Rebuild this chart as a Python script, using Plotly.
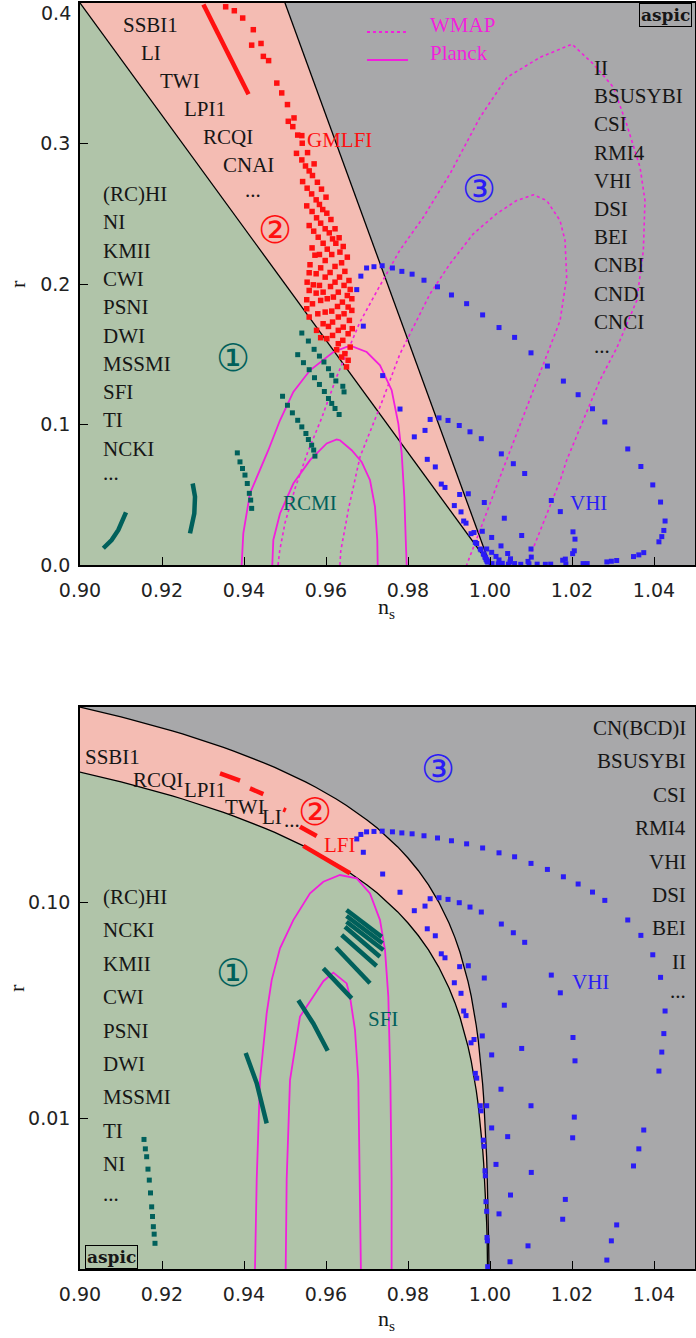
import numpy as np
import plotly.graph_objects as go

W, H = 696, 1338

# ---------------- axes / ticks ----------------
NS_RANGE = [0.90, 1.05]
XTICKS = [0.90, 0.92, 0.94, 0.96, 0.98, 1.00, 1.02, 1.04]
XTICKTEXT = ["0.90", "0.92", "0.94", "0.96", "0.98", "1.00", "1.02", "1.04"]
TOP_R_RANGE = [0.0, 0.4]
TOP_YTICKS = [0.0, 0.1, 0.2, 0.3, 0.4]
TOP_YTICKTEXT = ["0.0", "0.1", "0.2", "0.3", " "]
TOP_YMAX_LABEL = "0.4"
BOT_R_RANGE = [0.002, 0.8]
BOT_YTICKS = [0.01, 0.1]
BOT_YTICKTEXT = ["0.01", "0.10"]

# region boundaries: r = k * (1 - ns)
BOUNDARY_K = [4.0, 8.0]

# ---------------- contours (ns, r) ----------------
TOP_PLANCK_1S = [(0.9469, 0.0), (0.94715, 0.0178), (0.94878, 0.0367), (0.95203, 0.058), (0.9561, 0.0746),
                 (0.96017, 0.0865), (0.96261, 0.0893), (0.96341, 0.0888), (0.96626, 0.0817), (0.9687, 0.0734),
                 (0.97073, 0.0604), (0.97195, 0.0414), (0.97251, 0.0178), (0.97261, 0.0)]
TOP_PLANCK_2S = [(0.93943, 0.0), (0.93983, 0.0225), (0.94146, 0.051), (0.94431, 0.0699), (0.94593, 0.0817),
                 (0.94878, 0.103), (0.95203, 0.1232), (0.9561, 0.1386), (0.96179, 0.1516), (0.96504, 0.1552),
                 (0.96626, 0.1557), (0.96993, 0.1516), (0.97317, 0.1421), (0.97602, 0.1244), (0.97764, 0.1007),
                 (0.97846, 0.0794), (0.9791, 0.0485), (0.97951, 0.013), (0.97968, 0.0)]
TOP_WMAP_1S = [(0.9634, 0.0), (0.9636, 0.01), (0.9655, 0.04), (0.9683, 0.077), (0.9735, 0.115), (0.978, 0.15),
               (0.98537, 0.193), (0.99024, 0.2144), (0.99593, 0.2357), (1.00162, 0.25), (1.0065, 0.2594),
               (1.0106, 0.2635), (1.01383, 0.2594), (1.01707, 0.2452), (1.0183, 0.231), (1.0187, 0.205),
               (1.0171, 0.174), (1.0126, 0.14), (1.0074, 0.1), (1.0021, 0.06), (0.9976, 0.025), (0.9943, 0.0)]
TOP_WMAP_2S = [(0.9483, 0.0), (0.9487, 0.01), (0.950, 0.03), (0.9525, 0.055), (0.9555, 0.08), (0.959, 0.105),
               (0.9626, 0.134), (0.9683, 0.173), (0.973, 0.198), (0.978, 0.224), (0.98374, 0.2475),
               (0.99024, 0.2784), (0.99756, 0.3186), (1.0041, 0.347), (1.0122, 0.3613), (1.02, 0.3707),
               (1.0252, 0.3566), (1.0301, 0.34), (1.0333, 0.314), (1.0366, 0.283), (1.0378, 0.2594),
               (1.0374, 0.2239), (1.0358, 0.1883), (1.031, 0.155), (1.0268, 0.1315), (1.0187, 0.0746),
               (1.0171, 0.06), (1.013, 0.03), (1.0089, 0.0)]
BOT_PLANCK_1S = [(0.9501, 0.0015), (0.95017, 0.002), (0.95041, 0.0052), (0.95122, 0.015), (0.95366, 0.0295),
                 (0.9569, 0.0365), (0.95935, 0.0430), (0.96179, 0.0471), (0.96504, 0.042), (0.96585, 0.0365),
                 (0.96707, 0.0256), (0.96788, 0.015), (0.96829, 0.0052), (0.96854, 0.002), (0.9686, 0.0015)]
BOT_PLANCK_2S = [(0.94268, 0.0015), (0.94268, 0.002), (0.9431, 0.0052), (0.9439, 0.015), (0.94553, 0.0305),
                 (0.94675, 0.0435), (0.94878, 0.0611), (0.95203, 0.0825), (0.9561, 0.1097), (0.95935, 0.1242),
                 (0.96341, 0.1334), (0.96748, 0.1287), (0.97073, 0.1097), (0.97317, 0.0825), (0.97439, 0.06),
                 (0.9752, 0.0365), (0.9757, 0.015), (0.976, 0.0052), (0.976, 0.0015)]

# ---------------- model predictions (ns, r) ----------------
BLUE_MODELS = [
    (0.99944, 0.00205), (0.99935, 0.0027), (0.99927, 0.0028), (0.99919, 0.0037), (0.99902, 0.0041),
    (0.99886, 0.0054), (0.99878, 0.0057), (0.99854, 0.0074), (0.99837, 0.0079), (0.99781, 0.0108),
    (0.99763, 0.0114), (0.99676, 0.0153), (0.99642, 0.0161), (0.99537, 0.0223), (0.9961, 0.0231),
    (0.99415, 0.0298), (0.99358, 0.0313), (0.99293, 0.0378), (0.9913, 0.0423), (0.98902, 0.0552),
    (0.98812, 0.0576), (0.98666, 0.0698), (0.9847, 0.0752), (0.98154, 0.0912), (0.98415, 0.0958),
    (0.97805, 0.111), (0.97382, 0.1348), (0.9691, 0.170), (0.9675, 0.196), (0.9685, 0.2056),
    (0.9699, 0.2114), (0.9717, 0.2123), (0.9737, 0.213), (0.9762, 0.2114), (0.9785, 0.209), (0.981, 0.207),
    (0.9839, 0.2027), (0.9872, 0.198), (0.9906, 0.1922), (0.9943, 0.186), (0.9982, 0.178), (1.0022, 0.169),
    (1.006, 0.162), (1.010, 0.151), (1.014, 0.1416), (1.0179, 0.1309), (1.0215, 0.1212), (1.025, 0.1112),
    (1.028, 0.1018), (1.0336, 0.0826), (1.0368, 0.0701), (1.0397, 0.057), (1.0416, 0.0448),
    (1.0427, 0.0313), (1.0424, 0.0246), (1.0419, 0.0202), (1.0412, 0.0165), (1.0375, 0.0088),
    (1.0363, 0.0072), (1.035, 0.006), (1.0309, 0.0032), (1.0296, 0.0027), (1.0285, 0.0022),
    (1.0237, 0.001), (1.0227, 0.001),
    (0.9854, 0.1036), (0.98756, 0.1047), (0.98976, 0.1029), (0.9925, 0.0993), (0.99512, 0.0948),
    (0.99788, 0.0899), (1.00276, 0.0791), (1.00569, 0.0721), (1.00846, 0.0651), (1.01495, 0.0459),
    (1.01715, 0.038), (1.02024, 0.0236), (1.02073, 0.0184), (1.02056, 0.0101), (1.02016, 0.0081),
    (1.01837, 0.0042), (1.01773, 0.0034), (1.0185, 0.0008), (1.0148, 0.0006),
    (0.9926, 0.0502), (0.99471, 0.0507), (0.99812, 0.024), (0.99861, 0.0445), (1.00349, 0.0333),
    (1.00773, 0.021), (1.01, 0.0114), (1.01007, 0.0056), (1.00927, 0.00256),
    (1.00041, 0.0196), (1.00268, 0.0136), (1.00431, 0.0082), (1.0050, 0.0044), (1.00488, 0.00216),
    (1.00041, 0.009), (0.99919, 0.0114), (1.00146, 0.0061), (1.0022, 0.0036),
    (1.0005, 0.001), (1.002, 0.0008), (1.003, 0.0012), (1.0045, 0.0006), (1.006, 0.001),
    (1.0075, 0.0005), (1.0095, 0.0008), (1.0115, 0.0006), (1.0135, 0.0005)]

TOP_RED_STREAK = [(0.9301, 0.399), (0.93577, 0.366), (0.9411, 0.335)]
TOP_RED_DOTS = [
    (0.93553, 0.3973), (0.93764, 0.3945), (0.93968, 0.3893), (0.94227, 0.381), (0.94187, 0.370),
    (0.94415, 0.3712), (0.94472, 0.362), (0.946, 0.359), (0.948, 0.343), (0.9492, 0.336),
    (0.9506, 0.3277), (0.9508, 0.3158), (0.9522, 0.3182), (0.9519, 0.312), (0.9531, 0.306), (0.9541, 0.3056),
    (0.9542, 0.3002), (0.9528, 0.293), (0.9555, 0.2935), (0.9541, 0.2883), (0.9550, 0.284), (0.9571, 0.2855),
    (0.9559, 0.2805), (0.9567, 0.2772), (0.9543, 0.2729), (0.9579, 0.2724), (0.9554, 0.2682), (0.9589, 0.2675),
    (0.9565, 0.2641), (0.960, 0.2618), (0.9553, 0.2556), (0.9576, 0.2599), (0.9584, 0.2566), (0.9592, 0.2530),
    (0.9566, 0.2516), (0.9602, 0.2504), (0.9577, 0.2471), (0.9612, 0.2459), (0.9587, 0.2433), (0.9622, 0.2393),
    (0.9559, 0.2416), (0.9598, 0.2393), (0.957, 0.2376), (0.9608, 0.2364), (0.9632, 0.2329), (0.9581, 0.2333),
    (0.9616, 0.2321), (0.9593, 0.229), (0.9624, 0.229), (0.9642, 0.2267), (0.9566, 0.2257), (0.9603, 0.2248),
    (0.9634, 0.2227), (0.9652, 0.2191), (0.9584, 0.221), (0.9614, 0.221), (0.9573, 0.2205), (0.9638, 0.2151),
    (0.9598, 0.2167), (0.9561, 0.2137), (0.9622, 0.2125), (0.9646, 0.209), (0.9587, 0.2115), (0.961, 0.2082),
    (0.9576, 0.2073), (0.9559, 0.208), (0.9633, 0.2049), (0.9656, 0.2025), (0.9598, 0.2049), (0.9554, 0.2013),
    (0.9622, 0.2013), (0.9569, 0.1994), (0.9644, 0.199), (0.9584, 0.199), (0.9611, 0.1982), (0.9659, 0.1961),
    (0.9559, 0.1954), (0.9593, 0.1942), (0.963, 0.1942), (0.9652, 0.1918), (0.9576, 0.1935), (0.9553, 0.1888),
    (0.9663, 0.1895), (0.9618, 0.1907), (0.9603, 0.1895), (0.964, 0.1871), (0.9587, 0.1883), (0.9567, 0.1859),
    (0.9628, 0.1840), (0.9654, 0.1836), (0.9553, 0.1824), (0.9614, 0.1807), (0.9663, 0.1812), (0.9598, 0.18),
    (0.9644, 0.1788), (0.958, 0.1788), (0.963, 0.1765), (0.9559, 0.1765), (0.9657, 0.1741), (0.9616, 0.1729),
    (0.9606, 0.1698), (0.9593, 0.1717), (0.9642, 0.1693), (0.9664, 0.1682), (0.9577, 0.1670), (0.963, 0.1670),
    (0.9654, 0.1646), (0.9616, 0.1634), (0.9602, 0.1611), (0.9587, 0.1618), (0.9641, 0.1599), (0.9659, 0.1551),
    (0.9626, 0.1532), (0.9646, 0.1504), (0.9654, 0.1457), (0.965, 0.141), (0.963, 0.1575), (0.9638, 0.148)]

TOP_TEAL_ARCS = [
    [(0.90569, 0.0119), (0.90772, 0.0178), (0.90935, 0.0249), (0.91057, 0.032), (0.91122, 0.0374)],
    [(0.92683, 0.0225), (0.92788, 0.0367), (0.92805, 0.0486), (0.92748, 0.058)]]
TOP_TEAL_DOTS = [
    (0.93837, 0.0798), (0.93902, 0.0734), (0.93963, 0.0687), (0.94024, 0.064), (0.9408, 0.058),
    (0.9413, 0.051), (0.94163, 0.0462), (0.94187, 0.0403),
    (0.9494, 0.1201), (0.9506, 0.1137), (0.9518, 0.1083), (0.9531, 0.1030), (0.9541, 0.0983),
    (0.9551, 0.0936), (0.9557, 0.0893), (0.9565, 0.0853), (0.957, 0.0818), (0.9573, 0.0775),
    (0.9541, 0.1651), (0.9557, 0.1594), (0.9571, 0.1535), (0.9584, 0.1487), (0.9595, 0.1445),
    (0.9606, 0.1397), (0.9614, 0.1350), (0.9624, 0.1310), (0.9641, 0.1272), (0.9644, 0.1232),
    (0.9531, 0.1497), (0.9545, 0.1440), (0.9559, 0.1390), (0.9572, 0.1333), (0.9584, 0.1285),
    (0.9596, 0.1235), (0.9606, 0.1185), (0.9614, 0.1150), (0.9622, 0.1114), (0.9632, 0.1071)]

BOT_RED_SEGMENTS = [
    [(0.93415, 0.394), (0.93902, 0.3645)],
    [(0.94146, 0.336), (0.94471, 0.316)],
    [(0.94959, 0.2685), (0.9502, 0.2655)],
    [(0.95366, 0.2234), (0.95773, 0.2023)],
    [(0.95447, 0.1820), (0.96585, 0.1360)]]
BOT_TEAL_SEGMENTS = [
    [(0.9650, 0.0918), (0.9736, 0.069)],
    [(0.9650, 0.0862), (0.9738, 0.0645)],
    [(0.9650, 0.0810), (0.9740, 0.060)],
    [(0.96463, 0.0769), (0.97317, 0.0558)],
    [(0.96382, 0.0704), (0.97234, 0.0506)],
    [(0.96244, 0.0616), (0.97073, 0.0421)],
    [(0.95935, 0.0493), (0.96627, 0.0358)],
    [(0.95325, 0.0351), (0.9569, 0.0274), (0.96041, 0.0205)],
    [(0.94041, 0.020), (0.9431, 0.0145), (0.94553, 0.00945)]]
BOT_TEAL_DOTS = [(0.91561, 0.00796), (0.91594, 0.0072), (0.91626, 0.00662), (0.91658, 0.0058),
                 (0.9169, 0.00516), (0.91719, 0.0045), (0.91748, 0.00388), (0.91769, 0.0035),
                 (0.91789, 0.00314), (0.91809, 0.0029), (0.91829, 0.00263)]

# ---------------- labels ----------------
TOP_DIAG_LABELS = ["SSBI1", "LI", "TWI", "LPI1", "RCQI", "CNAI", "..."]
TOP_LEFT_LABELS = ["(RC)HI", "NI", "KMII", "CWI", "PSNI", "DWI", "MSSMI", "SFI", "TI", "NCKI", "..."]
TOP_RIGHT_LABELS = ["II", "BSUSYBI", "CSI", "RMI4", "VHI", "DSI", "BEI", "CNBI", "CNDI", "CNCI", "..."]
BOT_DIAG_LABELS = ["SSBI1", "RCQI", "LPI1", "TWI", "LI", "..."]
BOT_LEFT_LABELS = ["(RC)HI", "NCKI", "KMII", "CWI", "PSNI", "DWI", "MSSMI", "TI", "NI", "..."]
BOT_RIGHT_LABELS = ["CN(BCD)I", "BSUSYBI", "CSI", "RMI4", "VHI", "DSI", "BEI", "II", "..."]

# ---------------- styling ----------------
GREEN = "#b0c4a9"
PINK = "#f4bcb3"
GREY = "#a8a8aa"
MAGENTA = "#f21fdc"
BLUE = "#2b1cf6"
RED = "#ff1010"
TEAL = "#00605b"
INK = "#161616"
SERIF = "Liberation Serif"
TICKFONT = "DejaVu Sans"
CIRC = "DejaVu Serif, DejaVu Sans, Noto Sans CJK JP"
LBL = 21

fig = go.Figure()


def unzip(pairs):
    return [p[0] for p in pairs], [p[1] for p in pairs]


def add(tr, panel):
    tr.update(xaxis="x" if panel == 1 else "x2", yaxis="y" if panel == 1 else "y2",
              showlegend=False, hoverinfo="skip")
    fig.add_trace(tr)


# region shading and boundaries
eps = np.concatenate([np.linspace(0.12, 0.01, 45), np.geomspace(0.01, 1e-6, 60)[1:]])
ns_b = 1 - eps
k_lo, k_hi = BOUNDARY_K
for panel, ymin in [(1, -0.01), (2, 1e-7)]:
    add(go.Scatter(x=list(ns_b) + [1.0, 0.88], y=list(k_lo * eps) + [ymin, ymin], mode="lines",
                   line=dict(width=0), fill="toself", fillcolor=GREEN), panel)
    add(go.Scatter(x=list(ns_b) + list(ns_b[::-1]), y=list(k_lo * eps) + list((k_hi * eps)[::-1]),
                   mode="lines", line=dict(width=0), fill="toself", fillcolor=PINK), panel)
    for k in BOUNDARY_K:
        add(go.Scatter(x=ns_b, y=k * eps, mode="lines", line=dict(color="black", width=1.3)), panel)

# contours
for c in [TOP_WMAP_1S, TOP_WMAP_2S]:
    x, y = unzip(c)
    add(go.Scatter(x=x, y=y, mode="lines", line=dict(color=MAGENTA, width=1.6, dash="dot")), 1)
for c in [TOP_PLANCK_1S, TOP_PLANCK_2S]:
    x, y = unzip(c)
    add(go.Scatter(x=x, y=y, mode="lines", line=dict(color=MAGENTA, width=1.8)), 1)
for c in [BOT_PLANCK_1S, BOT_PLANCK_2S]:
    x, y = unzip(c)
    add(go.Scatter(x=x, y=y, mode="lines", line=dict(color=MAGENTA, width=1.8)), 2)

mk = dict(symbol="square", size=5, line=dict(width=0))

# top panel models
for arc in TOP_TEAL_ARCS:
    x, y = unzip(arc)
    add(go.Scatter(x=x, y=y, mode="lines", line=dict(color=TEAL, width=4.5)), 1)
x, y = unzip(TOP_TEAL_DOTS)
add(go.Scatter(x=x, y=y, mode="markers", marker=dict(color=TEAL, **mk)), 1)
x, y = unzip(TOP_RED_STREAK)
add(go.Scatter(x=x, y=y, mode="lines", line=dict(color=RED, width=4.5)), 1)
x, y = unzip(TOP_RED_DOTS)
add(go.Scatter(x=x, y=y, mode="markers",
               marker=dict(color=RED, symbol="square", size=5.5, line=dict(width=0))), 1)

# bottom panel models
for seg in BOT_TEAL_SEGMENTS:
    x, y = unzip(seg)
    add(go.Scatter(x=x, y=y, mode="lines", line=dict(color=TEAL, width=4.5)), 2)
x, y = unzip(BOT_TEAL_DOTS)
add(go.Scatter(x=x, y=y, mode="markers", marker=dict(color=TEAL, **mk)), 2)
for seg in BOT_RED_SEGMENTS:
    x, y = unzip(seg)
    add(go.Scatter(x=x, y=y, mode="lines", line=dict(color=RED, width=4.5)), 2)

# shared blue models
x, y = unzip(BLUE_MODELS)
for panel in (1, 2):
    add(go.Scatter(x=x, y=y, mode="markers", marker=dict(color=BLUE, **mk)), panel)

# ---------------- annotations ----------------
ann = []


def P(px, py):
    return px / W, 1 - py / H


def text(t, px, py, color=INK, size=LBL, xanchor="center", family=SERIF, **kw):
    x, y = P(px, py)
    ann.append(dict(text=t, x=x, y=y, xref="paper", yref="paper", xanchor=xanchor, yanchor="middle",
                    showarrow=False, font=dict(family=family, size=size, color=color), **kw))


top_diag_pos = [(150, 25), (151, 53), (180, 81), (205, 109), (228, 137), (248, 165), (253, 190)]
for t, (px, py) in zip(TOP_DIAG_LABELS, top_diag_pos):
    text(t, px, py)
for i, t in enumerate(TOP_LEFT_LABELS):
    text(t, 101, 194 + 28.3 * i - (4 if t == "..." else 0), xanchor="left")
for i, t in enumerate(TOP_RIGHT_LABELS):
    text(t, 592, 68 + 28.2 * i - (4 if t == "..." else 0), xanchor="left")

bot_diag_pos = [(112, 757), (158, 780), (205, 790), (245, 807), (272, 817), (292, 820)]
for t, (px, py) in zip(BOT_DIAG_LABELS, bot_diag_pos):
    text(t, px, py)
for i, t in enumerate(BOT_LEFT_LABELS):
    text(t, 101, 897 + 33.4 * i - (4 if t == "..." else 0), xanchor="left")
for i, t in enumerate(BOT_RIGHT_LABELS):
    text(t, 688, 728 + 33.4 * i - (4 if t == "..." else 0), xanchor="right")

# region numbers and model names
text("①", 233, 358, TEAL, 38, family=CIRC)
text("②", 275, 230, RED, 38, family=CIRC)
text("③", 479, 189, BLUE, 38, family=CIRC)
text("①", 233, 973, TEAL, 38, family=CIRC)
text("②", 315, 812, RED, 38, family=CIRC)
text("③", 438, 769, BLUE, 38, family=CIRC)
text("GMLFI", 305, 140, RED, xanchor="left")
text("RCMI", 310, 503, TEAL)
text("VHI", 588, 503, BLUE)
text("LFI", 322, 845, RED, xanchor="left")
text("SFI", 383, 1019, TEAL)
text("VHI", 590, 982, BLUE)

# legend
text("WMAP", 428, 25, MAGENTA, xanchor="left")
text("Planck", 428, 53, MAGENTA, xanchor="left")

# aspic boxes
text("<b>aspic</b>", 665, 15, INK, 17, family="DejaVu Serif", bordercolor="black", borderwidth=1, borderpad=1)
text("<b>aspic</b>", 111, 1257, INK, 17, family="DejaVu Serif", bordercolor="black", borderwidth=1, borderpad=1)

# top y tick label at the upper edge (kept inside the frame height as in the reference)
text(TOP_YMAX_LABEL, 73, 13, "#222", 19, xanchor="right", family=TICKFONT)

# axis titles
text("r", 17, 284, INK, 22, textangle=-90)
text("r", 17, 988, INK, 22, textangle=-90)
text("n<sub>s</sub>", 386, 608, INK, 22)
text("n<sub>s</sub>", 386, 1320, INK, 22)

shapes = []
for py, dash in [(32, "dot"), (60, "solid")]:
    x0, y0 = P(367, py)
    x1, _ = P(408, py)
    shapes.append(dict(type="line", xref="paper", yref="paper", x0=x0, x1=x1, y0=y0, y1=y0,
                       line=dict(color=MAGENTA, width=1.8, dash=dash)))

# ---------------- layout ----------------
xdom = [80 / W, 695 / W]
axis_common = dict(showgrid=False, zeroline=False, showline=True, mirror=True, linecolor="black",
                   linewidth=1.6, ticks="inside", ticklen=8, tickwidth=1.4, tickcolor="black",
                   automargin=False,
                   tickfont=dict(family=TICKFONT, size=19, color="#222"))
fig.update_layout(
    width=W, height=H, margin=dict(l=0, r=0, t=0, b=0, autoexpand=False),
    paper_bgcolor="white", plot_bgcolor=GREY, showlegend=False,
    annotations=ann, shapes=shapes,
    xaxis=dict(domain=xdom, anchor="y", range=NS_RANGE, tickvals=XTICKS, ticktext=XTICKTEXT,
               ticklabelstandoff=7, **axis_common),
    yaxis=dict(domain=[1 - 565 / H, 1 - 3 / H], anchor="x", range=TOP_R_RANGE, tickvals=TOP_YTICKS,
               ticktext=TOP_YTICKTEXT, ticklabelstandoff=4, **axis_common),
    xaxis2=dict(domain=xdom, anchor="y2", range=NS_RANGE, tickvals=XTICKS, ticktext=XTICKTEXT,
                ticklabelstandoff=7, **axis_common),
    yaxis2=dict(domain=[1 - 1269 / H, 1 - 707 / H], anchor="x2", type="log",
                range=[np.log10(BOT_R_RANGE[0]), np.log10(BOT_R_RANGE[1])], tickvals=BOT_YTICKS,
                ticktext=BOT_YTICKTEXT, ticklabelstandoff=4, **axis_common),
)

fig.write_html("out.html", config={"displayModeBar": False},
               post_script="document.body.style.margin='0px';")
